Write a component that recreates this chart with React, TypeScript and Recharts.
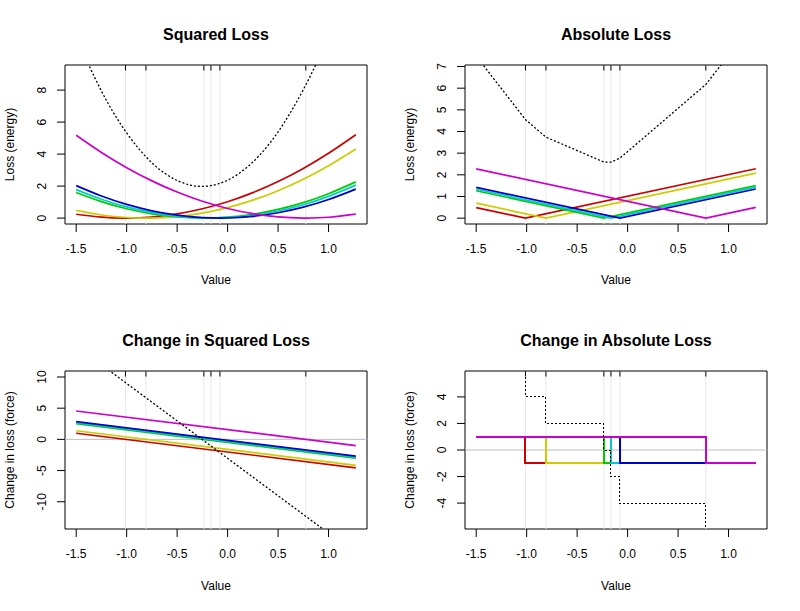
import { LineChart, Line, XAxis, YAxis, ReferenceLine, ReferenceArea } from "recharts";

// six observations (grey verticals), one colour each
const observations = [-1.012, -0.809, -0.235, -0.165, -0.076, 0.775];
const lineColors = ["#CC0000", "#CCCC00", "#00CC00", "#00CCCC", "#0000CC", "#CC00CC"];
const xStart = -1.5;
const xEnd = 1.27;
const xTicks = [-1.5, -1, -0.5, 0, 0.5, 1];

// squared loss, read at these x positions
const gridX = [-1.5, -1.25, -1, -0.75, -0.5, -0.25, 0, 0.25, 0.5, 0.75, 1, 1.27];
const sqRed = [0.238, 0.057, 0.0, 0.069, 0.262, 0.581, 1.024, 1.593, 2.286, 3.105, 4.048, 5.208];
const sqYellow = [0.477, 0.194, 0.036, 0.003, 0.095, 0.312, 0.654, 1.121, 1.713, 2.43, 3.272, 4.322];
const sqGreen = [1.6, 1.03, 0.585, 0.265, 0.07, 0.0, 0.055, 0.235, 0.54, 0.97, 1.525, 2.265];
const sqCyan = [1.782, 1.177, 0.697, 0.342, 0.112, 0.007, 0.027, 0.172, 0.442, 0.837, 1.357, 2.059];
const sqBlue = [2.028, 1.378, 0.854, 0.454, 0.18, 0.03, 0.006, 0.106, 0.332, 0.682, 1.158, 1.812];
const sqMagenta = [5.176, 4.101, 3.151, 2.326, 1.626, 1.051, 0.601, 0.276, 0.076, 0.001, 0.051, 0.245];
const sqTotal = [11.3, 7.94, 5.32, 3.46, 2.35, 1.98, 2.37, 3.5, 5.39, 8.03, 11.41, 15.91];

// absolute loss: value at left end, at the observation, at right end
const absRed = [0.488, 0, 2.282];
const absYellow = [0.691, 0, 2.079];
const absGreen = [1.265, 0, 1.505];
const absCyan = [1.335, 0, 1.435];
const absBlue = [1.424, 0, 1.346];
const absMagenta = [2.275, 0, 0.495];
const absTotalX = [-1.5, -1.012, -0.809, -0.235, -0.165, -0.076, 0.775, 1.27];
const absTotal = [7.48, 4.55, 3.74, 2.59, 2.59, 2.77, 6.17, 9.14];

// change in squared loss at the two ends
const fsqRed = [0.976, -4.564];
const fsqYellow = [1.382, -4.158];
const fsqGreen = [2.53, -3.01];
const fsqCyan = [2.67, -2.87];
const fsqBlue = [2.848, -2.692];
const fsqMagenta = [4.55, -0.99];
const fsqTotal = [14.96, -18.28];

// change in absolute loss (steps)
const fabsEach = [1, -1, -1];
const fabsTotal = [6, 4, 2, 0, -2, -4, -6, -6];

const xDomain: [number, number] = [-1.611, 1.381];
const font = "'Liberation Sans', Arial, sans-serif";

type Row = { x: number; y: number };
type Series = { data: Row[]; color: string; type: any; dotted?: boolean };

const rows = (xs: number[], ys: number[]): Row[] => xs.map((x, i) => ({ x, y: ys[i] }));

const squaredSeries: Series[] = [
  ...[sqRed, sqYellow, sqGreen, sqCyan, sqBlue, sqMagenta].map((ys, i) => ({
    data: rows(gridX, ys), color: lineColors[i], type: "natural",
  })),
  { data: rows(gridX, sqTotal), color: "#000", type: "natural", dotted: true },
];

const absoluteSeries: Series[] = [
  ...[absRed, absYellow, absGreen, absCyan, absBlue, absMagenta].map((ys, i) => ({
    data: rows([xStart, observations[i], xEnd], ys), color: lineColors[i], type: "linear",
  })),
  { data: rows(absTotalX, absTotal), color: "#000", type: "linear", dotted: true },
];

const forceSqSeries: Series[] = [
  ...[fsqRed, fsqYellow, fsqGreen, fsqCyan, fsqBlue, fsqMagenta].map((ys, i) => ({
    data: rows([xStart, xEnd], ys), color: lineColors[i], type: "linear",
  })),
  { data: rows([xStart, xEnd], fsqTotal), color: "#000", type: "linear", dotted: true },
];

const forceAbsSeries: Series[] = [
  ...observations.map((o, i) => ({
    data: rows([xStart, o, xEnd], fabsEach), color: lineColors[i], type: "stepAfter",
  })),
  { data: rows(absTotalX, fabsTotal), color: "#000", type: "stepAfter", dotted: true },
];

function RotatedTick(props: any) {
  const { x, y, payload } = props;
  return (
    <text x={x} y={y} transform={`rotate(-90, ${x}, ${y})`} textAnchor="middle" fontSize={12} fill="#000" fontFamily={font}>
      {payload.value}
    </text>
  );
}

type PanelProps = {
  left: number;
  top: number;
  height: number;
  title: string;
  yLabel: string;
  yDomain: [number, number];
  yTicks: number[];
  series: Series[];
  zeroLine?: boolean;
  crisp?: boolean;
};

function Panel({ left, top, height, title, yLabel, yDomain, yTicks, series, zeroLine, crisp }: PanelProps) {
  const plotH = height - 65 - 82;
  const rugLen = ((yDomain[1] - yDomain[0]) * 5.5) / plotH;
  return (
    <div style={{ position: "absolute", left, top, width: 400, height }}>
      <LineChart width={400} height={height} margin={{ top: 65, right: 33, bottom: 0, left: 0 }} style={{ fontFamily: font }}>
        <XAxis
          type="number"
          dataKey="x"
          domain={xDomain}
          allowDataOverflow
          ticks={xTicks}
          interval={0}
          tickFormatter={(v: number) => v.toFixed(1)}
          height={82}
          tickSize={8}
          tickMargin={12}
          axisLine={false}
          tickLine={{ stroke: "#000" }}
          tick={{ fill: "#000", fontSize: 12, fontFamily: font }}
        />
        <YAxis
          type="number"
          domain={yDomain}
          allowDataOverflow
          ticks={yTicks}
          interval={0}
          width={65}
          tickSize={8}
          tickMargin={11}
          axisLine={false}
          tickLine={{ stroke: "#000" }}
          tick={RotatedTick}
        />
        {/* grey guides first so the curves sit on top of them */}
        {observations.map((o) => (
          <Line
            key={"g" + o}
            data={[{ x: o, y: yDomain[0] }, { x: o, y: yDomain[1] }]}
            dataKey="y"
            stroke="#E8E8E8"
            strokeWidth={1}
            dot={false}
            activeDot={false}
            isAnimationActive={false}
          />
        ))}
        {zeroLine && (
          <Line
            data={[{ x: xDomain[0], y: 0 }, { x: xDomain[1], y: 0 }]}
            dataKey="y"
            stroke="#BEBEBE"
            strokeWidth={1}
            dot={false}
            activeDot={false}
            isAnimationActive={false}
          />
        )}
        {series.map((s, i) => (
          <Line
            key={i}
            data={s.data}
            dataKey="y"
            type={s.type}
            stroke={s.color}
            strokeWidth={s.dotted ? (crisp ? 1 : 1.3) : crisp ? 2 : 1.7}
            strokeDasharray={s.dotted ? "2 2" : undefined}
            shapeRendering={crisp ? "crispEdges" : undefined}
            dot={false}
            activeDot={false}
            isAnimationActive={false}
          />
        ))}
        {observations.map((o) => (
          <ReferenceLine
            key={"r" + o}
            segment={[{ x: o, y: yDomain[1] }, { x: o, y: yDomain[1] - rugLen }]}
            stroke="#000"
          />
        ))}
        <ReferenceArea x1={xDomain[0]} x2={xDomain[1]} y1={yDomain[0]} y2={yDomain[1]} fill="none" stroke="#000" fillOpacity={0} />
      </LineChart>
      <svg width={400} height={height} style={{ position: "absolute", left: 0, top: 0, pointerEvents: "none" }} fontFamily={font}>
        <text x={216} y={40} textAnchor="middle" fontSize={16} fontWeight="bold" fill="#000">
          {title}
        </text>
        <text x={216} y={284} textAnchor="middle" fontSize={12} fill="#000">
          Value
        </text>
        <text x={14} y={65 + plotH / 2} transform={`rotate(-90, 14, ${65 + plotH / 2})`} textAnchor="middle" fontSize={12} fill="#000">
          {yLabel}
        </text>
      </svg>
    </div>
  );
}

export default function App() {
  return (
    <div style={{ position: "absolute", left: 0, top: 0, width: 800, height: 611, background: "#fff" }}>
      <Panel left={0} top={0} height={306} title="Squared Loss" yLabel="Loss (energy)" yDomain={[-0.37, 9.57]} yTicks={[0, 2, 4, 6, 8]} series={squaredSeries} />
      <Panel left={400} top={0} height={306} title="Absolute Loss" yLabel="Loss (energy)" yDomain={[-0.27, 7.07]} yTicks={[0, 1, 2, 3, 4, 5, 6, 7]} series={absoluteSeries} />
      <Panel left={0} top={306} height={305} title="Change in Squared Loss" yLabel="Change in loss (force)" yDomain={[-14.37, 10.96]} yTicks={[-10, -5, 0, 5, 10]} series={forceSqSeries} zeroLine />
      <Panel left={400} top={306} height={305} title="Change in Absolute Loss" yLabel="Change in loss (force)" yDomain={[-5.95, 5.95]} yTicks={[-4, -2, 0, 2, 4]} series={forceAbsSeries} zeroLine crisp />
    </div>
  );
}
